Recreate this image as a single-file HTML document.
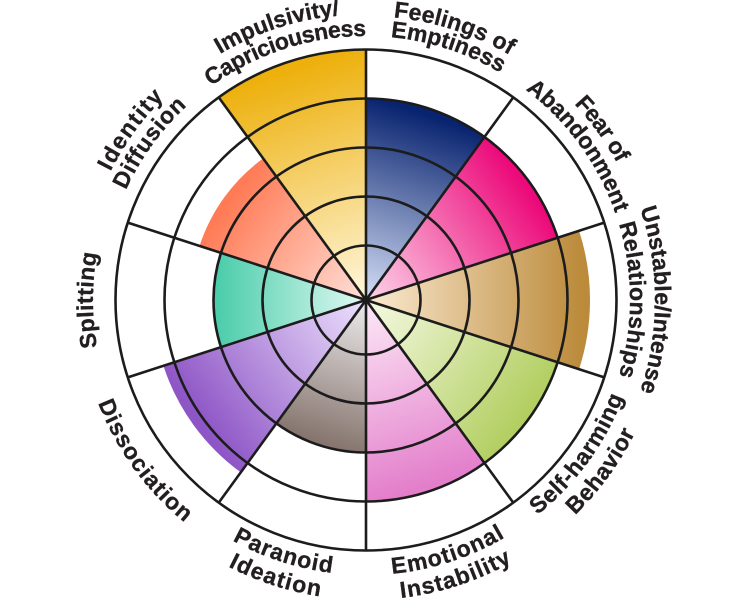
<!DOCTYPE html>
<html>
<head>
<meta charset="utf-8">
<style>
  html,body{margin:0;padding:0;background:#fff;}
  svg{display:block;}
  text{font-family:"Liberation Sans", Arial, sans-serif;font-weight:bold;font-size:23px;fill:#231f20;stroke:#231f20;stroke-width:0.35px;}
</style>
</head>
<body>
<svg width="732" height="600" viewBox="0 0 732 600" xmlns="http://www.w3.org/2000/svg">
  <defs>
    <linearGradient id="gNavy" gradientUnits="userSpaceOnUse" x1="366" y1="300" x2="426.4" y2="114.1">
      <stop offset="0" stop-color="#D6E0F7"/><stop offset="1" stop-color="#08236F"/>
    </linearGradient>
    <linearGradient id="gPink" gradientUnits="userSpaceOnUse" x1="366" y1="300" x2="524.2" y2="185.1">
      <stop offset="0" stop-color="#FDD5EA"/><stop offset="1" stop-color="#EC0A7A"/>
    </linearGradient>
    <linearGradient id="gTan" gradientUnits="userSpaceOnUse" x1="366" y1="300" x2="583" y2="300">
      <stop offset="0" stop-color="#FCEBD2"/><stop offset="1" stop-color="#BB8A3A"/>
    </linearGradient>
    <linearGradient id="gGreen" gradientUnits="userSpaceOnUse" x1="366" y1="300" x2="524.2" y2="414.9">
      <stop offset="0" stop-color="#F5FAE3"/><stop offset="1" stop-color="#B3CF62"/>
    </linearGradient>
    <linearGradient id="gOrchid" gradientUnits="userSpaceOnUse" x1="366" y1="300" x2="426.4" y2="485.9">
      <stop offset="0" stop-color="#FDEAF7"/><stop offset="1" stop-color="#E37ECB"/>
    </linearGradient>
    <linearGradient id="gTaupe" gradientUnits="userSpaceOnUse" x1="366" y1="300" x2="320.3" y2="440.8">
      <stop offset="0" stop-color="#EEECEE"/><stop offset="1" stop-color="#87766F"/>
    </linearGradient>
    <linearGradient id="gPurple" gradientUnits="userSpaceOnUse" x1="366" y1="300" x2="198.8" y2="421.4">
      <stop offset="0" stop-color="#EDE2FD"/><stop offset="1" stop-color="#8E55C6"/>
    </linearGradient>
    <linearGradient id="gTeal" gradientUnits="userSpaceOnUse" x1="366" y1="300" x2="218" y2="300">
      <stop offset="0" stop-color="#E2FAF3"/><stop offset="1" stop-color="#4CCDAB"/>
    </linearGradient>
    <linearGradient id="gCoral" gradientUnits="userSpaceOnUse" x1="366" y1="300" x2="228.5" y2="200.1">
      <stop offset="0" stop-color="#FFE0D8"/><stop offset="1" stop-color="#FF7A55"/>
    </linearGradient>
    <linearGradient id="gGold" gradientUnits="userSpaceOnUse" x1="366" y1="300" x2="290.9" y2="68.9">
      <stop offset="0" stop-color="#FFF7DE"/><stop offset="1" stop-color="#EDB00C"/>
    </linearGradient>

    <!-- label paths: clockwise -->
    <path id="pImpO" d="M100.83,192.86 A286,286 0 0 1 517.56,57.46"/>
    <path id="pImpI" d="M121.22,201.10 A264,264 0 0 1 505.90,76.12"/>
    <path id="pFeeO" d="M215.50,59.15 A284,284 0 0 1 629.32,193.61"/>
    <path id="pFeeI" d="M226.10,76.12 A264,264 0 0 1 610.78,201.10"/>
    <path id="pFeaO" d="M385.95,14.70 A286,286 0 0 1 643.50,369.19"/>
    <path id="pFeaI" d="M384.42,36.64 A264,264 0 0 1 622.16,363.87"/>
    <path id="pUnsO" d="M551.77,78.61 A289,289 0 0 1 551.77,521.39"/>
    <path id="pUnsI" d="M535.70,97.76 A264,264 0 0 1 535.70,502.24"/>
    <path id="pIdeO" d="M88.50,369.19 A286,286 0 0 1 346.05,14.70"/>
    <path id="pIdeI" d="M109.84,363.87 A264,264 0 0 1 347.58,36.64"/>
    <path id="pSpl" d="M190.52,509.13 A273,273 0 0 1 190.52,90.87"/>
    <!-- counter-clockwise (bottom) -->
    <path id="pSelI" d="M385.18,574.33 A275,275 0 0 0 632.83,233.47"/>
    <path id="pSelO" d="M386.93,599.27 A300,300 0 0 0 657.09,227.42"/>
    <path id="pEmoI" d="M220.27,533.21 A275,275 0 0 0 620.98,403.02"/>
    <path id="pEmoO" d="M207.02,554.41 A300,300 0 0 0 644.16,412.38"/>
    <path id="pParI" d="M111.02,403.02 A275,275 0 0 0 511.73,533.21"/>
    <path id="pParO" d="M87.84,412.38 A300,300 0 0 0 524.98,554.41"/>
    <path id="pDis" d="M87.53,230.57 A287,287 0 0 0 345.98,586.30"/>
  </defs>

  <rect x="0" y="0" width="732" height="600" fill="#ffffff"/>

  <!-- sectors -->
  <path d="M366,300 L366,98.5 A201.5,201.5 0 0 1 484.44,136.98 Z" fill="url(#gNavy)"/>
  <path d="M366,300 L484.44,136.98 A201.5,201.5 0 0 1 557.64,237.73 Z" fill="url(#gPink)"/>
  <path d="M366,300 L579.04,230.78 A224,224 0 0 1 579.04,369.22 Z" fill="url(#gTan)"/>
  <path d="M366,300 L557.64,362.27 A201.5,201.5 0 0 1 484.44,463.02 Z" fill="url(#gGreen)"/>
  <path d="M366,300 L484.44,463.02 A201.5,201.5 0 0 1 366,501.5 Z" fill="url(#gOrchid)"/>
  <path d="M366,300 L366,452.5 A152.5,152.5 0 0 1 276.36,423.38 Z" fill="url(#gTaupe)"/>
  <path d="M366,300 L240.80,472.32 A213,213 0 0 1 163.43,365.82 Z" fill="url(#gPurple)"/>
  <path d="M366,300 L220.96,347.13 A152.5,152.5 0 0 1 220.96,252.87 Z" fill="url(#gTeal)"/>
  <path d="M366,300 L199.57,245.92 A175,175 0 0 1 263.14,158.42 Z" fill="url(#gCoral)"/>
  <path d="M366,300 L218.76,97.34 A250.5,250.5 0 0 1 366,49.5 Z" fill="url(#gGold)"/>

  <!-- grid -->
  <g fill="none" stroke="#1c1c1c" stroke-width="2.6">
    <circle cx="366" cy="300" r="54.5"/>
    <circle cx="366" cy="300" r="103.5"/>
    <circle cx="366" cy="300" r="152.5"/>
    <circle cx="366" cy="300" r="201.5"/>
    <circle cx="366" cy="300" r="250.5"/>
    <path d="M366,49.5 L366,550.5"/>
    <path d="M513.24,97.34 L218.76,502.66"/>
    <path d="M604.24,222.59 L127.76,377.41"/>
    <path d="M604.24,377.41 L127.76,222.59"/>
    <path d="M513.24,502.66 L218.76,97.34"/>
  </g>
  <circle cx="366" cy="300" r="3" fill="#1c1c1c"/>

  <!-- labels -->
  <text><textPath href="#pImpO" startOffset="50%" text-anchor="middle">Impulsivity/</textPath></text>
  <text style="letter-spacing:-0.45px"><textPath href="#pImpI" startOffset="50%" text-anchor="middle">Capriciousness</textPath></text>

  <text style="letter-spacing:0.15px"><textPath href="#pFeeO" startOffset="50%" text-anchor="middle">Feelings of</textPath></text>
  <text><textPath href="#pFeeI" startOffset="50%" text-anchor="middle">Emptiness</textPath></text>

  <text style="letter-spacing:-0.6px"><textPath href="#pFeaO" startOffset="50%" text-anchor="middle">Fear of</textPath></text>
  <text><textPath href="#pFeaI" startOffset="50%" text-anchor="middle">Abandonment</textPath></text>

  <text style="letter-spacing:0.1px"><textPath href="#pUnsO" startOffset="50%" text-anchor="middle">Unstable/Intense</textPath></text>
  <text style="letter-spacing:0.25px"><textPath href="#pUnsI" startOffset="50%" text-anchor="middle">Relationships</textPath></text>

  <text style="letter-spacing:0.6px"><textPath href="#pSelI" startOffset="50%" text-anchor="middle">Self-harming</textPath></text>
  <text style="letter-spacing:0.55px"><textPath href="#pSelO" startOffset="50%" text-anchor="middle">Behavior</textPath></text>

  <text style="letter-spacing:1px"><textPath href="#pEmoI" startOffset="50%" text-anchor="middle">Emotional</textPath></text>
  <text style="letter-spacing:1px"><textPath href="#pEmoO" startOffset="50%" text-anchor="middle">Instability</textPath></text>

  <text style="letter-spacing:0.95px"><textPath href="#pParI" startOffset="50%" text-anchor="middle">Paranoid</textPath></text>
  <text style="letter-spacing:1.2px"><textPath href="#pParO" startOffset="50%" text-anchor="middle">Ideation</textPath></text>

  <text style="letter-spacing:1.1px"><textPath href="#pDis" startOffset="50%" text-anchor="middle">Dissociation</textPath></text>

  <text style="letter-spacing:0.3px"><textPath href="#pSpl" startOffset="50%" text-anchor="middle">Splitting</textPath></text>

  <text style="letter-spacing:1.4px"><textPath href="#pIdeO" startOffset="50%" text-anchor="middle">Identity</textPath></text>
  <text style="letter-spacing:0.6px"><textPath href="#pIdeI" startOffset="50%" text-anchor="middle">Diffusion</textPath></text>
</svg>
</body>
</html>
